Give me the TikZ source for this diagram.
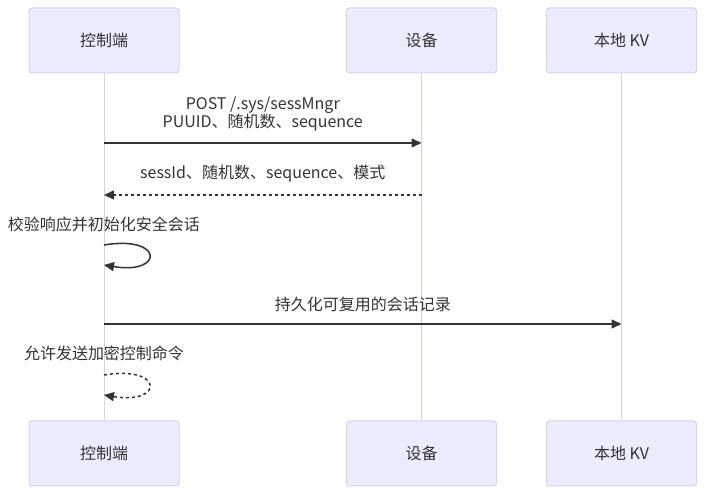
\documentclass[tikz,border=0pt]{standalone}
\usepackage{fontspec}
\setmainfont{Noto Sans CJK SC}
\usetikzlibrary{arrows.meta, positioning}
\definecolor{actorfill}{HTML}{ECECFF}
\definecolor{actorline}{HTML}{D9CFF3}
\definecolor{msgcolor}{HTML}{333333}

\begin{document}
\begin{tikzpicture}[
    x=1pt, y=-1pt,
    font=\fontsize{16}{18}\selectfont,
    actor/.style={rectangle, draw=actorline, fill=actorfill, rounded corners=3pt, minimum width=150pt, minimum height=65pt, text=msgcolor, line width=1pt},
    lifeline/.style={actorline, line width=1pt},
    msg/.style={-{Triangle[length=10pt, width=9pt]}, msgcolor, line width=1.5pt},
    reply/.style={msg, dash pattern=on 3pt off 3pt},
    lbl/.style={text=msgcolor, inner sep=0pt, align=center}
]
\useasboundingbox (0,0) rectangle (705,494);

\node[actor] (ctl) at (104,40.5) {控制端};
\node[actor] (dev) at (421.5,40.5) {设备};
\node[actor] (kv) at (621.5,40.5) {本地 KV};
\node[actor, below=347pt of ctl] (ctlB) {控制端};
\node[actor, below=347pt of dev] (devB) {设备};
\node[actor, below=347pt of kv] (kvB) {本地 KV};

\draw[lifeline] (ctl) -- (ctlB);
\draw[lifeline] (dev) -- (devB);
\draw[lifeline] (kv) -- (kvB);

% message rows on the lifelines
\foreach \r/\y in {1/143, 2/195, 3/324} {
    \coordinate (ctl\r) at (ctl.south |- 0,\y);
    \coordinate (dev\r) at (dev.south |- 0,\y);
    \coordinate (kv\r) at (kv.south |- 0,\y);
}
\coordinate (loopA) at (ctl.south |- 0,245);
\coordinate (loopAe) at (ctl.south |- 0,265);
\coordinate (loopB) at (ctl.south |- 0,375);
\coordinate (loopBe) at (ctl.south |- 0,395);

\draw[msg] (ctl1) -- node[lbl, midway, above=11pt] (m1) {POST /.sys/sessMngr\\PUUID、随机数、sequence} (dev1);
\draw[reply] (dev2) -- node[lbl, midway, above=12pt] (m2) {sessId、随机数、sequence、模式} (ctl2);

\node[lbl, above=13pt of loopA] (n1) {校验响应并初始化安全会话};
\draw[msg] (loopA) .. controls +(60,-10) and +(60,10) .. (loopAe);

\draw[msg] (ctl3) -- node[lbl, midway, above=11pt] (m3) {持久化可复用的会话记录} (kv3);

\node[lbl, above=14pt of loopB] (n2) {允许发送加密控制命令};
\draw[reply] (loopB) .. controls +(60,-10) and +(60,10) .. (loopBe);

\end{tikzpicture}
\end{document}
